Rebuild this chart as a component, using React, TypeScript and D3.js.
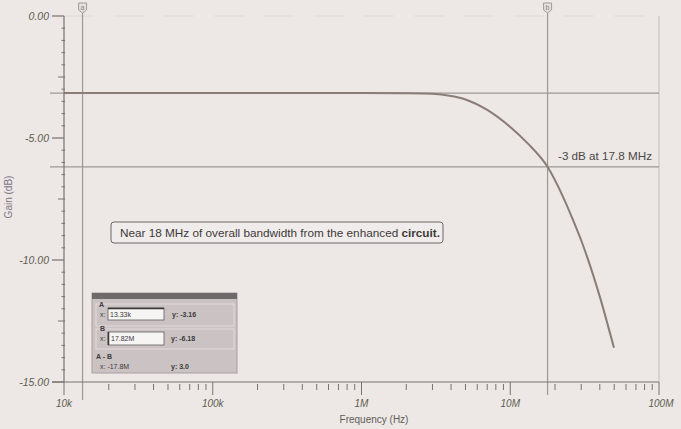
import React from "react";
import * as d3 from "d3";

const freqs = [1e4, 1e5, 1e6, 2e6, 3e6, 4e6, 5e6, 7e6, 1e7, 1.3e7, 1.78e7, 2.26e7, 2.7e7, 3e7, 3.3e7, 4e7, 4.98e7];
const gains = [-3.16, -3.16, -3.16, -3.17, -3.19, -3.28, -3.42, -3.85, -4.55, -5.2, -6.18, -7.4, -8.5, -9.2, -9.9, -11.5, -13.6];

const yTicks = [0, -5, -10, -15];
const yTickLabels = ["0.00", "-5.00", "-10.00", "-15.00"];
const xTicks = [1e4, 1e5, 1e6, 1e7, 1e8];
const xTickLabels = ["10k", "100k", "1M", "10M", "100M"];

const cursorA = { x: 13.33e3, y: -3.16, label: "a" };
const cursorB = { x: 17.82e6, y: -6.18, label: "b" };
const readoutA = ["13.33k", "-3.16"];
const readoutB = ["17.82M", "-6.18"];
const readoutDiff = ["-17.8M", "3.0"];

const annotation = "-3 dB at 17.8 MHz";
const noteText = "Near 18 MHz of overall bandwidth from the enhanced ";
const noteBold = "circuit.";

const W = 681, H = 429;
const L = 64, R = 659, T = 16, B = 382;

export default function App() {
  const x = d3.scaleLog().domain([1e4, 1e8]).range([L, R]);
  const y = d3.scaleLinear().domain([0, -15]).range([T, B]);
  const line = d3
    .line<number>()
    .x((_, i) => x(freqs[i]))
    .y((d) => y(d))
    .curve(d3.curveMonotoneX);

  const minorX: number[] = [];
  for (let dec = 1e4; dec < 1e8; dec *= 10) for (let k = 2; k <= 9; k++) minorX.push(dec * k);
  const minorY = d3.range(0, -15.01, -0.5).filter((v) => Math.abs(v % 5) > 0.01);

  const labelFont = "'Liberation Sans', Arial, sans-serif";
  const axisColor = "#77746c";
  const cursorColor = "#9e9894";
  const labelColor = "#5c5e4e";

  const marker = (cx: number, lab: string) => (
    <g key={lab}>
      <path
        d={`M${cx - 4},3 L${cx + 4},3 L${cx + 4},10 L${cx},13 L${cx - 4},10 Z`}
        fill="#e6dfdf"
        stroke="#9a9490"
        strokeWidth={0.9}
      />
      <text x={cx} y={10} fontSize={7} textAnchor="middle" fill="#8a8480" fontFamily={labelFont}>
        {lab}
      </text>
    </g>
  );

  return (
    <svg width={W} height={H} style={{ position: "absolute", left: 0, top: 0 }} fontFamily={labelFont}>
      <rect width={W} height={H} fill="#ede7e6" />

      {/* faint frame */}
      <line x1={L} x2={R} y1={T} y2={T} stroke="#e0d9d7" strokeWidth={1} strokeDasharray="30 20" />
      <line x1={R} x2={R} y1={T} y2={B} stroke="#c4bebb" strokeWidth={1} />

      {/* cursor lines */}
      <line x1={50} x2={R} y1={y(cursorA.y)} y2={y(cursorA.y)} stroke={cursorColor} strokeWidth={1.2} />
      <line x1={50} x2={R} y1={y(cursorB.y)} y2={y(cursorB.y)} stroke={cursorColor} strokeWidth={1.2} />
      <line x1={x(cursorA.x)} x2={x(cursorA.x)} y1={13} y2={400} stroke={cursorColor} strokeWidth={1.2} />
      <line x1={x(cursorB.x)} x2={x(cursorB.x)} y1={13} y2={395} stroke={cursorColor} strokeWidth={1.2} />
      {marker(x(cursorA.x), cursorA.label)}
      {marker(x(cursorB.x), cursorB.label)}

      {/* curve */}
      <path d={line(gains) || ""} fill="none" stroke="#8a7c76" strokeWidth={2} />

      {/* y axis */}
      <line x1={L} x2={L} y1={T} y2={B} stroke={axisColor} strokeWidth={1.2} />
      {yTicks.map((t, i) => (
        <g key={t}>
          <line x1={52} x2={L} y1={y(t)} y2={y(t)} stroke={axisColor} strokeWidth={1.2} />
          <text
            x={49}
            y={y(t) + 3.5}
            fontSize={10.5}
            fontStyle="italic"
            textAnchor="end"
            fill={labelColor}
          >
            {yTickLabels[i]}
          </text>
        </g>
      ))}
      {minorY.map((t) => {
        const med = Math.abs((Math.abs(t) % 5) - 2.5) < 0.01;
        return (
          <line key={t} x1={L - (med ? 6 : 2.5)} x2={L + 1} y1={y(t)} y2={y(t)} stroke={axisColor} strokeWidth={1} />
        );
      })}
      <text
        transform={`translate(12,${197}) rotate(-90)`}
        fontSize={10}
        textAnchor="middle"
        fill="#7d7482"
      >
        Gain (dB)
      </text>

      {/* x axis */}
      <line x1={52} x2={R} y1={B} y2={B} stroke={axisColor} strokeWidth={1.2} />
      {xTicks.map((t, i) => (
        <g key={t}>
          <line x1={x(t)} x2={x(t)} y1={B} y2={B + 13} stroke={axisColor} strokeWidth={1} />
          <text
            x={x(t) + (i === 4 ? 2 : 0)}
            y={407}
            fontSize={10}
            fontStyle="italic"
            textAnchor="middle"
            fill={labelColor}
          >
            {xTickLabels[i]}
          </text>
        </g>
      ))}
      {minorX.map((t) => (
        <line key={t} x1={x(t)} x2={x(t)} y1={B + 2} y2={B + 8} stroke={axisColor} strokeWidth={1} />
      ))}
      <text x={374} y={423} fontSize={10} textAnchor="middle" fill="#5e5c58">
        Frequency (Hz)
      </text>

      {/* -3 dB annotation */}
      <text x={558} y={160} fontSize={10.5} fill="#4a4744" textLength={94} lengthAdjust="spacingAndGlyphs">
        {annotation}
      </text>

      {/* note box */}
      <rect x={111} y={222} width={332} height={21} rx={3} fill="#f1ecec" stroke="#6c6864" strokeWidth={1} />
      <text x={120} y={236.5} fontSize={10.5} fill="#3c3a38" textLength={320} lengthAdjust="spacingAndGlyphs">
        {noteText}
        <tspan fontWeight="bold">{noteBold}</tspan>
      </text>

      {/* cursor readout dialog */}
      <g fontSize={7} fill="#3d3a3a">
        <rect x={92} y={293} width={145} height={80} fill="#cbc3c3" stroke="#a8a0a0" strokeWidth={1} />
        <rect x={92} y={293} width={145} height={6} fill="#6f6a6a" />
        <rect x={96} y={304} width={138} height={22} fill="none" stroke="#e8e2e2" strokeWidth={0.8} />
        <rect x={96} y={329} width={138} height={20} fill="none" stroke="#e8e2e2" strokeWidth={0.8} />
        <text x={99} y={307} fontWeight="bold">A</text>
        <text x={100} y={317}>x:</text>
        <rect x={108} y={308} width={56} height={12} fill="#f7f4f4" stroke="#605c5c" strokeWidth={0.8} />
        <line x1={108} x2={164} y1={308.5} y2={308.5} stroke="#3a3636" strokeWidth={1.5} />
        <text x={110} y={317}>{readoutA[0]}</text>
        <text x={172} y={317} fontWeight="bold">{"y: " + readoutA[1]}</text>

        <text x={100} y={331} fontWeight="bold">B</text>
        <text x={100} y={341}>x:</text>
        <rect x={108} y={332} width={56} height={13} fill="#f7f4f4" stroke="#605c5c" strokeWidth={0.8} />
        <line x1={108.5} x2={108.5} y1={332} y2={345} stroke="#3a3636" strokeWidth={1.5} />
        <text x={111} y={341}>{readoutB[0]}</text>
        <text x={171} y={341} fontWeight="bold">{"y: " + readoutB[1]}</text>

        <text x={96} y={359} fontWeight="bold">{"A - B"}</text>
        <text x={100} y={369}>{"x:  " + readoutDiff[0]}</text>
        <text x={171} y={369} fontWeight="bold">{"y: " + readoutDiff[1]}</text>
      </g>
    </svg>
  );
}
